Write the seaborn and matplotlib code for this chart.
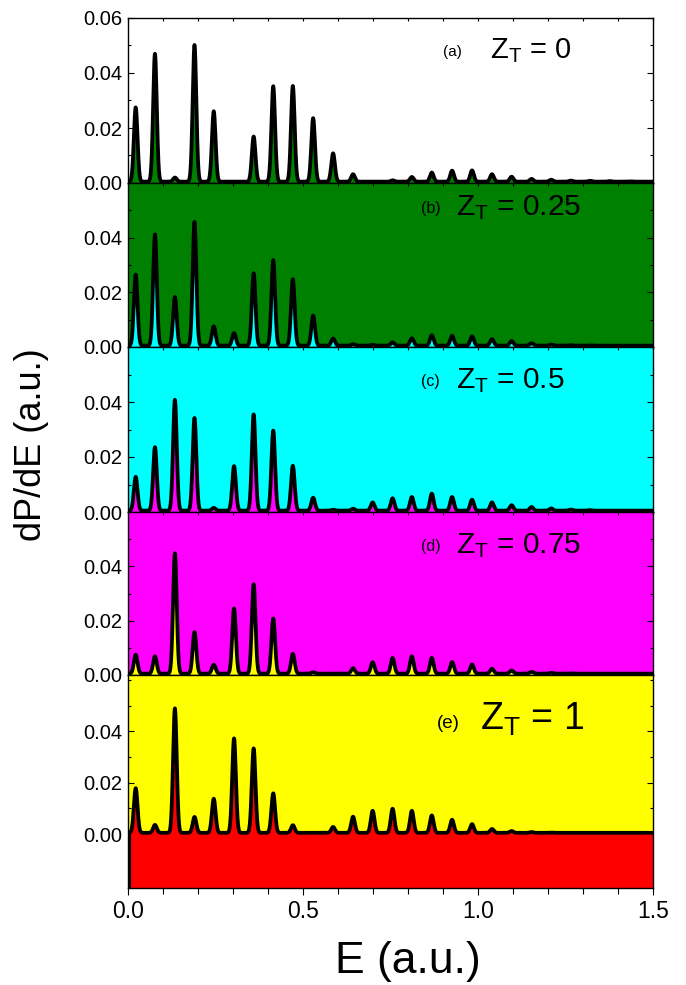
import numpy as np
import matplotlib
matplotlib.use("Agg")
import matplotlib.pyplot as plt
import matplotlib.ticker as mticker
import pandas as pd
import seaborn as sns

sns.set_style("ticks")
plt.rcParams["font.family"] = ["Liberation Sans", "DejaVu Sans"]
plt.rcParams["text.color"] = "black"
plt.rcParams["axes.labelcolor"] = "black"
plt.rcParams["xtick.color"] = "black"
plt.rcParams["ytick.color"] = "black"

# ---------------- data ----------------
peak_E = [0.022, 0.077, 0.134, 0.190, 0.245, 0.303, 0.359, 0.415, 0.471,
          0.529, 0.586, 0.643, 0.699, 0.756, 0.811, 0.868, 0.926, 0.983,
          1.040, 1.096, 1.153, 1.209, 1.265, 1.320, 1.377, 1.434, 1.490]

peaks_a = [0.0270, 0.0465, 0.0015, 0.0497, 0.0256, 0.0000, 0.0164, 0.0347, 0.0348,
           0.0231, 0.0103, 0.0027, 0.0000, 0.0005, 0.0017, 0.0033, 0.0040, 0.0041,
           0.0027, 0.0018, 0.0010, 0.0007, 0.0004, 0.0003, 0.0002, 0.0001, 0.0000]
peaks_b = [0.0260, 0.0407, 0.0178, 0.0453, 0.0071, 0.0046, 0.0265, 0.0313, 0.0243,
           0.0110, 0.0026, 0.0005, 0.0003, 0.0012, 0.0027, 0.0038, 0.0036, 0.0034,
           0.0024, 0.0017, 0.0009, 0.0004, 0.0002, 0.0001, 0.0000, 0.0000, 0.0000]
peaks_c = [0.0123, 0.0231, 0.0403, 0.0337, 0.0010, 0.0162, 0.0350, 0.0291, 0.0163,
           0.0047, 0.0003, 0.0007, 0.0030, 0.0045, 0.0050, 0.0062, 0.0050, 0.0040,
           0.0030, 0.0020, 0.0013, 0.0008, 0.0004, 0.0002, 0.0000, 0.0000, 0.0000]
peaks_d = [0.0070, 0.0064, 0.0443, 0.0153, 0.0033, 0.0240, 0.0329, 0.0203, 0.0073,
           0.0005, 0.0000, 0.0020, 0.0042, 0.0058, 0.0064, 0.0058, 0.0043, 0.0034,
           0.0018, 0.0012, 0.0007, 0.0003, 0.0001, 0.0000, 0.0000, 0.0000, 0.0000]
peaks_e = [0.0174, 0.0031, 0.0485, 0.0062, 0.0133, 0.0368, 0.0329, 0.0154, 0.0030,
           0.0000, 0.0023, 0.0063, 0.0086, 0.0094, 0.0086, 0.0068, 0.0051, 0.0034,
           0.0015, 0.0007, 0.0003, 0.0001, 0.0000, 0.0000, 0.0000, 0.0000, 0.0000]

baseline = 0.0005
peak_sigma = 0.0052

panel_tags = ["(a)", "(b)", "(c)", "(d)", "(e)"]
panel_zt = ["0", "0.25", "0.5", "0.75", "1"]
x_ticks = [0.0, 0.5, 1.0, 1.5]
x_tick_labels = ["0.0", "0.5", "1.0", "1.5"]

# ---------------- style ----------------
bg_colors = ["white", "#008000", "#00FFFF", "#FF00FF", "#FFFF00"]
fill_colors = ["#008000", "#00FFFF", "#FF00FF", "#FFFF00", "#FF0000"]
# axes boundaries in pixels from top of the figure
bounds_px = [(18, 183), (183, 347), (347, 512), (512, 675), (675, 888)]
ylims = [(0, 0.06), (0, 0.06), (0, 0.06), (0, 0.06), (-0.021, 0.062)]

W, H = 686, 985
fig = plt.figure(figsize=(W / 100, H / 100), dpi=100)

E = np.linspace(0, 1.5, 3001)
series = [peaks_a, peaks_b, peaks_c, peaks_d, peaks_e]

def spectrum(heights):
    y = np.full_like(E, baseline)
    for c, h in zip(peak_E, heights):
        y += h * np.exp(-0.5 * ((E - c) / peak_sigma) ** 2)
    return y

left, right = 128, 653
for i, heights in enumerate(series):
    top_px, bot_px = bounds_px[i]
    ax = fig.add_axes([left / W, 1 - bot_px / H, (right - left) / W, (bot_px - top_px) / H])
    ax.set_facecolor(bg_colors[i])
    y = spectrum(heights)
    df = pd.DataFrame({"E": E, "dPdE": y})
    ylo = ylims[i][0]
    ax.fill_between(df["E"], ylo, df["dPdE"], color=fill_colors[i], lw=0, zorder=1)
    sns.lineplot(data=df, x="E", y="dPdE", ax=ax, color="black", lw=2.7,
                 estimator=None, sort=False, zorder=3)
    if i == 4:
        ax.vlines(0.002, ylo, baseline, color="black", lw=3, zorder=3)
    ax.set_xlim(0, 1.5)
    ax.set_ylim(*ylims[i])
    ax.set_xlabel("")
    ax.set_ylabel("")
    for s in ax.spines.values():
        s.set_color("black")
        s.set_linewidth(1.0)
        s.set_visible(True)
    # y ticks
    if i == 0:
        yt = [0.0, 0.02, 0.04, 0.06]
    else:
        yt = [0.0, 0.02, 0.04]
    ax.yaxis.set_major_locator(mticker.FixedLocator(yt))
    ax.yaxis.set_minor_locator(mticker.MultipleLocator(0.01))
    ax.yaxis.set_major_formatter(mticker.FormatStrFormatter("%.2f"))
    ax.tick_params(axis="y", which="major", direction="in", length=4.5, width=0.8,
                   left=True, right=True, labelsize=14.5, pad=4)
    ax.tick_params(axis="y", which="minor", direction="in", length=2.5, width=0.8,
                   left=True, right=True)
    # x ticks
    ax.xaxis.set_major_locator(mticker.FixedLocator(x_ticks))
    ax.xaxis.set_minor_locator(mticker.MultipleLocator(0.1))
    if i == 4:
        ax.set_xticklabels(x_tick_labels)
        ax.tick_params(axis="x", which="major", direction="out", length=5, width=0.8,
                       bottom=True, labelsize=16.5, pad=4)
        ax.tick_params(axis="x", which="minor", direction="out", length=4, width=0.8,
                       bottom=True)
        ax.tick_params(axis="x", which="both", top=False)
    else:
        ax.tick_params(axis="x", which="both", direction="in", length=2.5, width=0.8,
                       bottom=False, top=True, labelbottom=False)

# panel labels
label_pos = [  # (tag_x, zt_x, baseline_y, tag_size, zt_size)
    (443, 490, 58, 11, 21),
    (421, 456, 215, 11.5, 21.5),
    (421, 456, 388, 11.5, 21.5),
    (421, 456, 553, 11.5, 21.5),
    (437, 480, 730, 13.5, 27),
]
for i in range(5):
    tx, zx, by, ts, zs = label_pos[i]
    fig.text(tx / W, 1 - (by - 2) / H, panel_tags[i], fontsize=ts, ha="left", va="baseline")
    fig.text(zx / W, 1 - by / H, r"$\mathregular{Z_T}$ = " + panel_zt[i],
             fontsize=zs, ha="left", va="baseline")

fig.text(32 / W, 1 - 445 / H, "dP/dE (a.u.)", rotation=90, fontsize=26,
         ha="center", va="center")
fig.text(408 / W, 1 - 962 / H, "E (a.u.)", fontsize=32, ha="center", va="center")

fig.savefig("out.png", dpi=100)
